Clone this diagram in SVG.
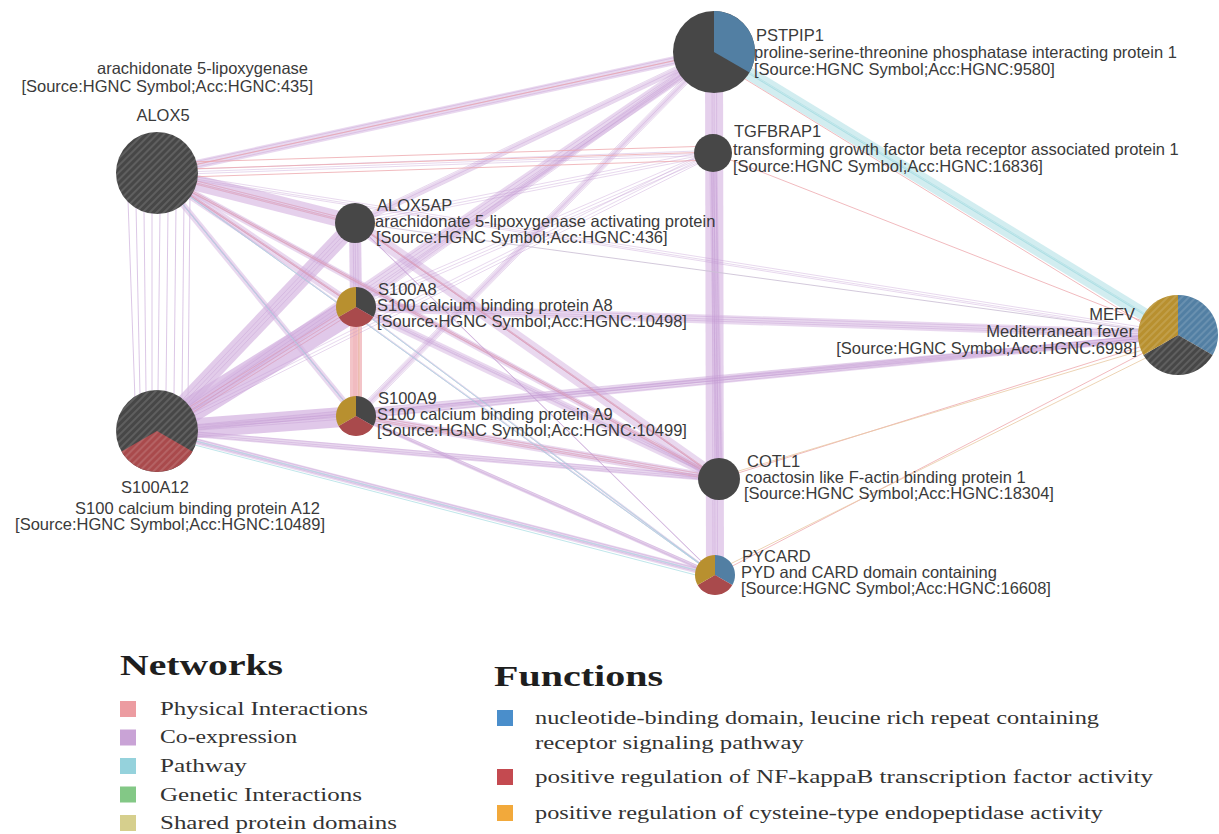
<svg xmlns="http://www.w3.org/2000/svg" xmlns:xlink="http://www.w3.org/1999/xlink" width="1219" height="834" viewBox="0 0 1219 834">
<style>
.lbl{font-family:"Liberation Sans",Arial,sans-serif;font-size:16.5px;fill:#3a3a3a}
.end{text-anchor:end}
.mid{text-anchor:middle}
.ttl{font-family:"Liberation Serif","Times New Roman",serif;font-size:29px;font-weight:bold;fill:#1e1e1e}
.leg{font-family:"Liberation Serif","Times New Roman",serif;font-size:19.5px;fill:#333}
.dk{fill:#474747}
.bl{fill:#527fa3}
.rd{fill:#a94a4c}
.gd{fill:#b8902f}
.hat{fill:url(#hatch)}
</style>
<defs>
<pattern id="hatch" width="5" height="5" patternUnits="userSpaceOnUse" patternTransform="rotate(45)">
<line x1="1" y1="0" x2="1" y2="5" stroke="#ffffff" stroke-opacity="0.2" stroke-width="1.3"/>
</pattern>
<g id="multi" fill="none" stroke-width="1">
<g stroke="#c39bd2" stroke-opacity="0.38">
<line x1="157" y1="431" x2="356" y2="307"/>
<line x1="157" y1="431" x2="356" y2="416"/>
<line x1="157" y1="431" x2="355" y2="223"/>
<line x1="157" y1="173" x2="355" y2="223"/>
<line x1="157" y1="173" x2="356" y2="307"/>
<line x1="157" y1="173" x2="356" y2="416"/>
<line x1="355" y1="223" x2="356" y2="307"/>
<line x1="714" y1="52" x2="715" y2="575"/>
<line x1="713" y1="153" x2="719" y2="479"/>
<line x1="157" y1="431" x2="714" y2="52"/>
<line x1="355" y1="223" x2="719" y2="479"/>
<line x1="356" y1="307" x2="719" y2="479"/>
<line x1="356" y1="416" x2="719" y2="479"/>
<line x1="157" y1="173" x2="719" y2="479"/>
<line x1="356" y1="307" x2="1178" y2="335"/>
<line x1="356" y1="416" x2="1178" y2="335"/>
<line x1="157" y1="431" x2="1178" y2="335"/>
<line x1="157" y1="173" x2="714" y2="52"/>
<line x1="157" y1="431" x2="715" y2="575"/>
<line x1="157" y1="431" x2="719" y2="479"/>
<line x1="356" y1="416" x2="715" y2="575"/>
<line x1="356" y1="307" x2="714" y2="52"/>
<line x1="355" y1="223" x2="714" y2="52"/>
<line x1="356" y1="416" x2="714" y2="52"/>
<line x1="157" y1="173" x2="713" y2="153"/>
<line x1="157" y1="173" x2="1178" y2="335"/>
<line x1="355" y1="223" x2="713" y2="153"/>
<line x1="157" y1="431" x2="713" y2="153"/>
<line x1="356" y1="307" x2="715" y2="575"/>
<line x1="355" y1="223" x2="715" y2="575"/>
<line x1="157" y1="173" x2="715" y2="575"/>
<line x1="356" y1="307" x2="713" y2="153"/>
</g>
<g stroke="#ea9ca2" stroke-opacity="0.4">
<line x1="157" y1="173" x2="355" y2="223"/>
<line x1="157" y1="173" x2="356" y2="307"/>
<line x1="157" y1="173" x2="719" y2="479"/>
<line x1="355" y1="223" x2="719" y2="479"/>
<line x1="356" y1="416" x2="719" y2="479"/>
<line x1="356" y1="307" x2="356" y2="416"/>
<line x1="157" y1="431" x2="356" y2="307"/>
</g>
<g stroke="#9ad6dd" stroke-opacity="0.45">
<line x1="714" y1="52" x2="1178" y2="335"/>
</g>
</g>
</defs>
<rect width="1219" height="834" fill="#ffffff"/>

<g id="connectors" fill="none">
<g id="bands" stroke-opacity="0.5">
<g stroke="#d3b1df">
<line x1="157" y1="431" x2="356" y2="307" stroke-width="26" stroke-opacity="0.7"/>
<line x1="157" y1="431" x2="356" y2="416" stroke-width="20" stroke-opacity="0.7"/>
<line x1="157" y1="431" x2="355" y2="223" stroke-width="16" stroke-opacity="0.65"/>
<line x1="157" y1="173" x2="355" y2="223" stroke-width="16" stroke-opacity="0.6"/>
<line x1="157" y1="173" x2="356" y2="307" stroke-width="8"/>
<line x1="157" y1="173" x2="356" y2="416" stroke-width="6"/>
<line x1="355" y1="223" x2="356" y2="307" stroke-width="12" stroke-opacity="0.65"/>
<line x1="714" y1="52" x2="715" y2="575" stroke-width="18" stroke-opacity="0.6"/>
<line x1="713" y1="153" x2="719" y2="479" stroke-width="8"/>
<line x1="157" y1="431" x2="714" y2="52" stroke-width="12"/>
<line x1="355" y1="223" x2="719" y2="479" stroke-width="12"/>
<line x1="356" y1="307" x2="719" y2="479" stroke-width="8"/>
<line x1="356" y1="416" x2="719" y2="479" stroke-width="8"/>
<line x1="157" y1="173" x2="719" y2="479" stroke-width="6"/>
<line x1="356" y1="307" x2="1178" y2="335" stroke-width="9"/>
<line x1="356" y1="416" x2="1178" y2="335" stroke-width="7"/>
<line x1="157" y1="431" x2="1178" y2="335" stroke-width="5"/>
<line x1="157" y1="173" x2="714" y2="52" stroke-width="9"/>
<line x1="157" y1="431" x2="715" y2="575" stroke-width="6"/>
<line x1="157" y1="431" x2="719" y2="479" stroke-width="6"/>
<line x1="356" y1="416" x2="715" y2="575" stroke-width="4"/>
<line x1="356" y1="307" x2="714" y2="52" stroke-width="5"/>
<line x1="355" y1="223" x2="714" y2="52" stroke-width="5"/>
<line x1="356" y1="416" x2="714" y2="52" stroke-width="5"/>
</g>
<line x1="356" y1="307" x2="356" y2="416" stroke="#eca5ab" stroke-width="12" stroke-opacity="0.65"/>
<line x1="714" y1="52" x2="1178" y2="335" stroke="#a6dce1" stroke-width="13"/>
</g>
<use xlink:href="#multi" href="#multi"/>
<use xlink:href="#multi" href="#multi" transform="translate(2.5,2)"/>
<use xlink:href="#multi" href="#multi" transform="translate(-2,-2.5)"/>
<g id="singles" stroke-width="1">
<g stroke="#d6bde2" stroke-opacity="0.85">
<line x1="128" y1="200" x2="135" y2="400"/>
<line x1="136" y1="205" x2="140" y2="395"/>
<line x1="144" y1="210" x2="146" y2="392"/>
<line x1="152" y1="212" x2="152" y2="390"/>
<line x1="160" y1="212" x2="158" y2="390"/>
<line x1="168" y1="210" x2="166" y2="392"/>
<line x1="176" y1="206" x2="174" y2="395"/>
<line x1="184" y1="200" x2="182" y2="400"/>
<line x1="190" y1="195" x2="188" y2="405"/>
<line x1="355" y1="223" x2="1178" y2="335" stroke="#cbbfd5"/>
</g>
<g stroke="#eca3a8" stroke-opacity="0.75">
<line x1="157" y1="163" x2="713" y2="146"/>
<line x1="157" y1="170" x2="713" y2="152"/>
<line x1="157" y1="178" x2="713" y2="160"/>
<line x1="714" y1="60" x2="1178" y2="345"/>
<line x1="713" y1="153" x2="1178" y2="335"/>
<line x1="719" y1="479" x2="1178" y2="335"/>
<line x1="715" y1="575" x2="1178" y2="335"/>
<line x1="157" y1="173" x2="714" y2="52"/>
</g>
<g stroke="#e8c9a2" stroke-opacity="0.8">
<line x1="718" y1="570" x2="1178" y2="342"/>
<line x1="722" y1="476" x2="1176" y2="340"/>
<line x1="359" y1="307" x2="359" y2="416"/>
</g>
<g stroke="#a9dde3" stroke-opacity="0.75">
<line x1="157" y1="173" x2="715" y2="575"/>
<line x1="157" y1="173" x2="356" y2="416"/>
<line x1="356" y1="307" x2="715" y2="575"/>
<line x1="160" y1="436" x2="715" y2="580"/>
<line x1="157" y1="431" x2="715" y2="575"/>
</g>
</g>
</g>

<g id="node-ALOX5">
<circle cx="157" cy="173" r="41" class="dk"/>
<circle cx="157" cy="173" r="41" class="hat"/>
<text class="lbl end" x="308" y="74">arachidonate 5-lipoxygenase</text>
<text class="lbl end" x="313" y="92">[Source:HGNC Symbol;Acc:HGNC:435]</text>
<text class="lbl mid" x="163" y="121">ALOX5</text>
</g>

<g id="node-S100A12">
<g transform="translate(157,431)">
<circle r="41" class="dk"/>
<path d="M0,0 L35.5,20.5 A41,41 0 0 1 -35.5,20.5 Z" class="rd"/>
<circle r="41" class="hat"/>
</g>
<text class="lbl mid" x="155" y="493">S100A12</text>
<text class="lbl end" x="320" y="514">S100 calcium binding protein A12</text>
<text class="lbl end" x="325" y="530">[Source:HGNC Symbol;Acc:HGNC:10489]</text>
</g>

<g id="node-ALOX5AP">
<circle cx="355" cy="223" r="20" class="dk"/>
<text class="lbl" x="377" y="211">ALOX5AP</text>
<text class="lbl" x="375" y="227">arachidonate 5-lipoxygenase activating protein</text>
<text class="lbl" x="376" y="243">[Source:HGNC Symbol;Acc:HGNC:436]</text>
</g>

<g id="node-S100A8">
<g transform="translate(356,307)">
<path d="M0,0 L0,-20 A20,20 0 0 1 17.32,10 Z" class="dk"/>
<path d="M0,0 L17.32,10 A20,20 0 0 1 -17.32,10 Z" class="rd"/>
<path d="M0,0 L-17.32,10 A20,20 0 0 1 0,-20 Z" class="gd"/>
</g>
<text class="lbl" x="378" y="295">S100A8</text>
<text class="lbl" x="377" y="311">S100 calcium binding protein A8</text>
<text class="lbl" x="377" y="327">[Source:HGNC Symbol;Acc:HGNC:10498]</text>
</g>

<g id="node-S100A9">
<g transform="translate(356,416)">
<path d="M0,0 L0,-20 A20,20 0 0 1 17.32,10 Z" class="dk"/>
<path d="M0,0 L17.32,10 A20,20 0 0 1 -17.32,10 Z" class="rd"/>
<path d="M0,0 L-17.32,10 A20,20 0 0 1 0,-20 Z" class="gd"/>
</g>
<text class="lbl" x="378" y="404">S100A9</text>
<text class="lbl" x="377" y="420">S100 calcium binding protein A9</text>
<text class="lbl" x="377" y="436">[Source:HGNC Symbol;Acc:HGNC:10499]</text>
</g>

<g id="node-PSTPIP1">
<g transform="translate(714,52)">
<circle r="41" class="dk"/>
<path d="M0,0 L0,-41 A41,41 0 0 1 35.5,20.5 Z" class="bl"/>
</g>
<text class="lbl" x="756" y="41">PSTPIP1</text>
<text class="lbl" x="754" y="58">proline-serine-threonine phosphatase interacting protein 1</text>
<text class="lbl" x="754" y="75">[Source:HGNC Symbol;Acc:HGNC:9580]</text>
</g>

<g id="node-TGFBRAP1">
<circle cx="713" cy="153" r="19" class="dk"/>
<text class="lbl" x="734" y="137">TGFBRAP1</text>
<text class="lbl" x="733" y="155">transforming growth factor beta receptor associated protein 1</text>
<text class="lbl" x="733" y="172">[Source:HGNC Symbol;Acc:HGNC:16836]</text>
</g>

<g id="node-MEFV">
<g transform="translate(1178,335)">
<path d="M0,0 L0,-40 A40,40 0 0 1 34.64,20 Z" class="bl"/>
<path d="M0,0 L34.64,20 A40,40 0 0 1 -34.64,20 Z" class="dk"/>
<path d="M0,0 L-34.64,20 A40,40 0 0 1 0,-40 Z" class="gd"/>
<circle r="40" class="hat"/>
</g>
<text class="lbl end" x="1135" y="320">MEFV</text>
<text class="lbl end" x="1134" y="337">Mediterranean fever</text>
<text class="lbl end" x="1137" y="354">[Source:HGNC Symbol;Acc:HGNC:6998]</text>
</g>

<g id="node-COTL1">
<circle cx="719" cy="479" r="21" class="dk"/>
<text class="lbl" x="747" y="467">COTL1</text>
<text class="lbl" x="745" y="483">coactosin like F-actin binding protein 1</text>
<text class="lbl" x="744" y="499">[Source:HGNC Symbol;Acc:HGNC:18304]</text>
</g>

<g id="node-PYCARD">
<g transform="translate(715,575)">
<path d="M0,0 L0,-20 A20,20 0 0 1 17.32,10 Z" class="bl"/>
<path d="M0,0 L17.32,10 A20,20 0 0 1 -17.32,10 Z" class="rd"/>
<path d="M0,0 L-17.32,10 A20,20 0 0 1 0,-20 Z" class="gd"/>
</g>
<text class="lbl" x="742" y="562">PYCARD</text>
<text class="lbl" x="741" y="578">PYD and CARD domain containing</text>
<text class="lbl" x="741" y="594">[Source:HGNC Symbol;Acc:HGNC:16608]</text>
</g>

<g id="legend-networks">
<text class="ttl" x="120" y="675" textLength="163" lengthAdjust="spacingAndGlyphs">Networks</text>
<rect x="120" y="701" width="16" height="16" fill="#ec9ca1"/>
<text class="leg" x="160" y="715" textLength="208" lengthAdjust="spacingAndGlyphs">Physical Interactions</text>
<rect x="120" y="729.5" width="16" height="16" fill="#c9a3d6"/>
<text class="leg" x="160" y="743" textLength="137" lengthAdjust="spacingAndGlyphs">Co-expression</text>
<rect x="120" y="758" width="16" height="16" fill="#95d2dc"/>
<text class="leg" x="160" y="772" textLength="87" lengthAdjust="spacingAndGlyphs">Pathway</text>
<rect x="120" y="786.5" width="16" height="16" fill="#83c886"/>
<text class="leg" x="160" y="800.5" textLength="202" lengthAdjust="spacingAndGlyphs">Genetic Interactions</text>
<rect x="120" y="815" width="16" height="16" fill="#d6cf8d"/>
<text class="leg" x="160" y="829" textLength="237" lengthAdjust="spacingAndGlyphs">Shared protein domains</text>
</g>

<g id="legend-functions">
<text class="ttl" x="494" y="686" textLength="169" lengthAdjust="spacingAndGlyphs">Functions</text>
<rect x="497" y="710" width="16" height="16" fill="#4a8ecb"/>
<text class="leg" x="535" y="724" textLength="564" lengthAdjust="spacingAndGlyphs">nucleotide-binding domain, leucine rich repeat containing</text>
<text class="leg" x="535" y="749" textLength="269" lengthAdjust="spacingAndGlyphs">receptor signaling pathway</text>
<rect x="497" y="769" width="16" height="16" fill="#c44a50"/>
<text class="leg" x="535" y="783" textLength="618" lengthAdjust="spacingAndGlyphs">positive regulation of NF-kappaB transcription factor activity</text>
<rect x="497" y="805" width="16" height="16" fill="#f2a93b"/>
<text class="leg" x="535" y="819" textLength="568" lengthAdjust="spacingAndGlyphs">positive regulation of cysteine-type endopeptidase activity</text>
</g>
</svg>
